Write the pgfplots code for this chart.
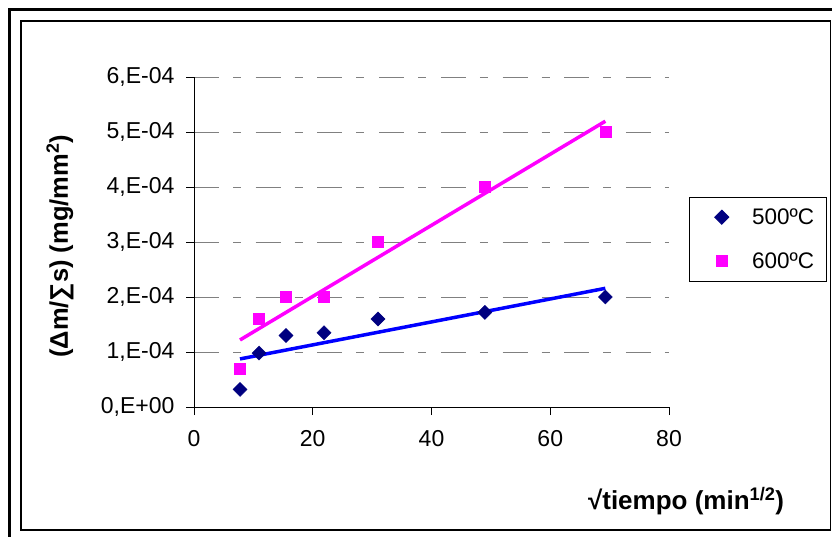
\documentclass[border=0pt]{standalone}
\usepackage{pgfplots}
\pgfplotsset{compat=1.18}
\usepackage{fontspec}
\setmainfont{Liberation Sans}
\definecolor{navy}{HTML}{000080}
\definecolor{mag}{HTML}{FF00FF}
\definecolor{blu}{HTML}{0000FF}
\definecolor{grd}{HTML}{808080}
\begin{document}
\begin{tikzpicture}
\useasboundingbox (0pt,0pt) rectangle (832pt,536pt);
\fill[white] (0pt,0pt) rectangle (832pt,536pt);
\draw[line width=3pt] (9pt,-5pt) -- (9pt,526pt) -- (840pt,526pt);
\draw[line width=1.5pt] (21pt,6pt) rectangle (830.5pt,515pt);
\begin{axis}[
  at={(194pt,129pt)}, anchor=south west,
  scale only axis, width=475pt, height=330pt,
  xmin=0, xmax=80, ymin=0, ymax=0.0006,
  axis x line*=bottom, axis y line*=left,
  axis line style={-, line width=1pt, black},
  xtick={0,20,40,60,80},
  ytick={0,0.0001,0.0002,0.0003,0.0004,0.0005,0.0006},
  yticklabels={{0,E+00},{1,E-04},{2,E-04},{3,E-04},{4,E-04},{5,E-04},{6,E-04}},
  scaled y ticks=false,
  /pgf/number format/assume math mode=true,
  tick align=outside, major tick length=8pt,
  tick style={black, line width=0.8pt},
  ticklabel style={font=\fontsize{23}{26}\selectfont},
  yticklabel style={xshift=-8pt},
  xticklabel style={yshift=-12pt},
  ymajorgrids,
  major grid style={grd, line width=1pt, dash pattern=on 25pt off 14pt on 8pt off 14.7pt},
  xlabel={\textbf{\textsurd tiempo (min\textsuperscript{1/2})}},
  xlabel style={font=\fontsize{26}{30}\selectfont, at={(axis description cs:1.036,-0.285)}, anchor=center},
  ylabel={\textbf{(Δm/∑s) (mg/mm\textsuperscript{2})}},
  ylabel style={font=\fontsize{25.5}{30}\selectfont, at={(axis description cs:-0.282,0.487)}, anchor=center},
  legend style={at={(axis description cs:1.042,0.636)}, anchor=north west,
    draw=black, line width=0.8pt, font=\fontsize{22.5}{26}\selectfont,
    inner xsep=10pt, inner ysep=9pt, row sep=23pt},
  legend image code/.code={\path (-22pt,0pt) (28pt,0pt); \draw[#1] plot coordinates {(0pt,0pt)};},
  legend cell align=left,
  clip=false,
]
\addplot[only marks, mark=square*, mark options={rotate=45, fill=navy, draw=navy}, mark size=5pt] coordinates {
(7.75,0.000032) (10.95,0.000098) (15.49,0.000130) (21.91,0.000135) (30.98,0.000160) (48.99,0.000172) (69.28,0.000200)
};
\addlegendentry{500ºC}
\addplot[only marks, mark=square*, mark options={fill=mag, draw=mag}, mark size=5.5pt] coordinates {
(7.75,0.000070) (10.95,0.000160) (15.49,0.000200) (21.91,0.000200) (30.98,0.000300) (48.99,0.000400) (69.28,0.000500)
};
\addlegendentry{600ºC}
\addplot[blu, line width=3.5pt, forget plot] coordinates {(7.75,0.0000874) (69.28,0.0002158)};
\addplot[mag, line width=3.5pt, forget plot] coordinates {(7.75,0.0001219) (69.28,0.0005196)};
\end{axis}
\end{tikzpicture}
\end{document}
